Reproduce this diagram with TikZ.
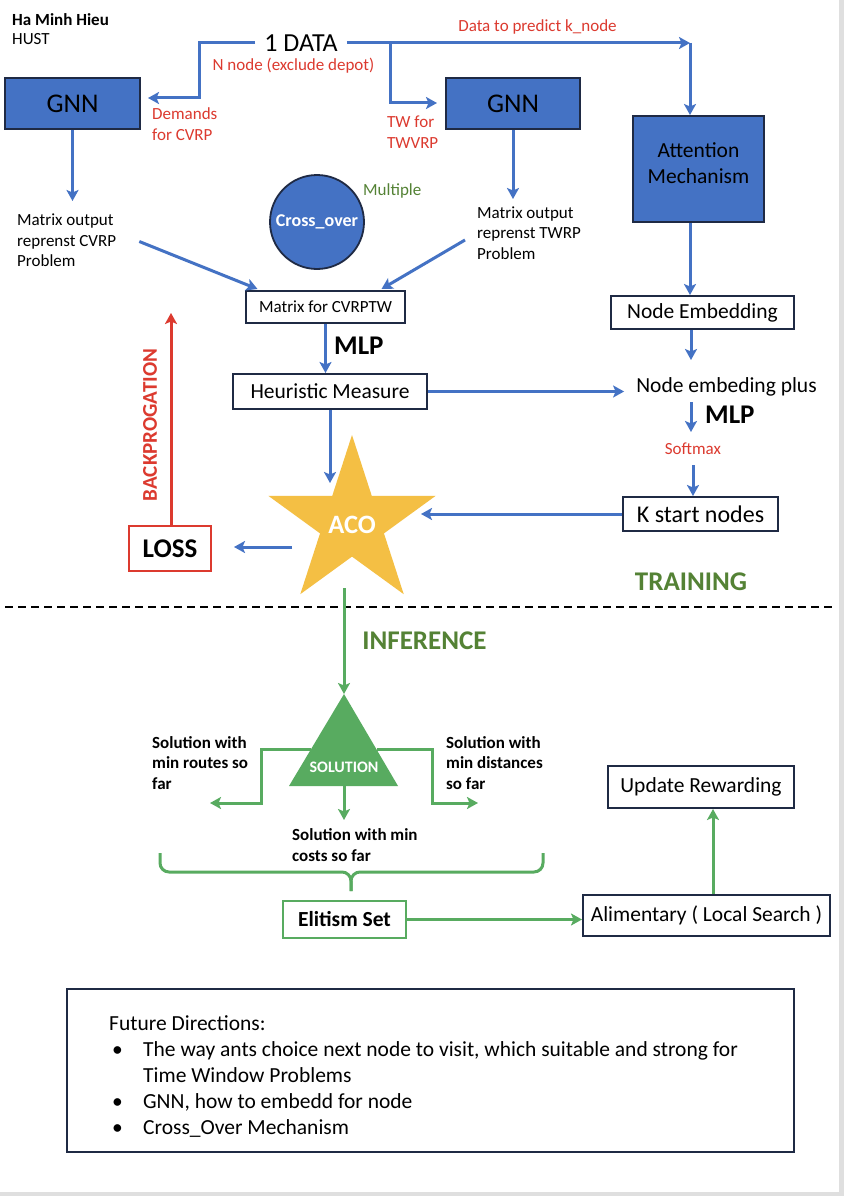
\documentclass[tikz,border=0pt]{standalone}
\usepackage{fontspec}
\setmainfont{Carlito}
\usetikzlibrary{arrows.meta}
\definecolor{oblue}{HTML}{4472C4}
\definecolor{navy}{HTML}{1F2A44}
\definecolor{ored}{HTML}{DC3A2F}
\definecolor{ogreen}{HTML}{58AB60}
\definecolor{dgreen}{HTML}{548235}
\definecolor{gold}{HTML}{F4BF44}
\definecolor{edgegray}{HTML}{DFDFDF}
\begin{document}
\begin{tikzpicture}[x=1pt,y=-1pt,
  fs/.style={font=\fontsize{17}{20.5}\selectfont},
  fsb/.style={font=\fontsize{17}{20.5}\selectfont\bfseries},
  fm/.style={font=\fontsize{21.5}{26}\selectfont},
  fmb/.style={font=\fontsize{21.5}{26}\selectfont\bfseries},
  fl/.style={font=\fontsize{27}{32}\selectfont},
  flb/.style={font=\fontsize{27}{32}\selectfont\bfseries},
  whitebox/.style={draw=navy, line width=2pt, fill=white, inner sep=0pt},
  bluebox/.style={draw=navy, line width=2pt, fill=oblue, inner sep=0pt},
  arrtip/.style={-{Stealth[length=11pt,width=12pt,inset=2.5pt]}},
  barrow/.style={draw=oblue, line width=3pt, arrtip},
  garrow/.style={draw=ogreen, line width=3pt, arrtip},
  rarrow/.style={draw=ored, line width=3pt, arrtip},
  gline/.style={draw=ogreen, line width=3pt},
  redtxt/.style={fs, text=ored, inner sep=0pt},
  plain/.style={inner sep=0pt}
]
\useasboundingbox (0,0) rectangle (844,1196);
\fill[white] (0,0) rectangle (844,1196);
\fill[edgegray] (839,0) rectangle (844,1196);
\fill[edgegray] (0,1192) rectangle (844,1196);

% header
\node[fsb, plain, anchor=west] (author) at (12,20) {Ha Minh Hieu};
\node[fs, plain, anchor=west] (inst) at (12,39) {HUST};

% data
\node[font=\fontsize{26}{31}\selectfont, inner xsep=9pt, inner ysep=0pt] (data) at (301,43) {1 DATA};
\node[redtxt] (nnode) at (293.5,66) {N node (exclude depot)};
\node[redtxt] (dpred) at (537.5,27) {Data to predict k\_node};

% top boxes
\node[bluebox, fl, minimum width=135, minimum height=51] (gnnL) at (72.5,103.5) {GNN};
\node[bluebox, fl, minimum width=134, minimum height=51] (gnnR) at (513,103.5) {GNN};
\node[bluebox, minimum width=131, minimum height=106] (att) at (698.5,169) {};
\node[fm, plain, align=center] (atttxt) at (698.5,163) {Attention\\Mechanism};

\node[redtxt, anchor=west, align=left] (dem) at (152,124) {Demands\\for CVRP};
\node[redtxt, anchor=west, align=left] (tw) at (387,132) {TW for\\TWVRP};

\coordinate (cL) at (199,98);
\coordinate (tipL) at (148,98);
\coordinate (cR) at (690,43);
\coordinate (cB) at (390,43);
\coordinate (tipB) at (437,103);
\draw[barrow] (data.west) -| (cL) -- (tipL);
\draw[barrow] (data.east) -- (cR);
\draw[barrow] (cR) -- (cR |- att.north);
\draw[barrow] (cB) |- (tipB);

\draw[barrow] (gnnL.south) -- ++(0,71);
\draw[barrow] (gnnR.south) -- ++(0,69);

\node[fs, plain, anchor=west, align=left] (mL) at (17,240.5) {Matrix output\\reprenst CVRP\\Problem};
\node[fs, plain, anchor=west, align=left] (mR) at (477,233) {Matrix output\\reprenst TWRP\\Problem};

\node[circle, draw=navy, line width=1.8pt, fill=oblue, minimum size=94, inner sep=0pt, text=white, font=\fontsize{18}{21}\selectfont\bfseries] (cross) at (317,222) {Cross\_over};
\node[fs, plain, text=dgreen, anchor=west] (mult) at (363,191) {Multiple};

\node[whitebox, fs, minimum width=159, minimum height=32] (mat) at (325.5,307) {Matrix for CVRPTW};
\draw[barrow] ([xshift=23pt,yshift=-1pt]mL.east) -- ([xshift=-68pt,yshift=1pt]mat.north);
\draw[barrow] ([xshift=-12pt,yshift=-7pt]mR.west) -- ([xshift=56pt,yshift=1pt]mat.north);

\node[whitebox, fm, minimum width=194, minimum height=35] (heur) at (330,391.5) {Heuristic Measure};
\draw[barrow] (mat.south) -- (mat.south |- heur.north);
\node[flb, plain, anchor=west] (mlp1) at (334,346) {MLP};

% right column
\node[whitebox, fm, minimum width=183, minimum height=33] (ne) at (702.5,312.5) {Node Embedding};
\draw[barrow] ([xshift=-8.5pt]att.south) -- ([xshift=-12.5pt]ne.north);
\node[fm, inner xsep=12pt, inner ysep=0pt] (nep) at (726.5,387) {Node embeding plus};
\coordinate (t1) at (691,360);
\draw[barrow] ([xshift=-11.5pt]ne.south) -- (t1);
\draw[barrow] (heur.east) -- (heur.east -| nep.west);
\coordinate (m2a) at (691,402);
\coordinate (m2b) at (691,432);
\draw[barrow] (m2a) -- (m2b);
\node[flb, plain, anchor=west] (mlp2) at (705,415) {MLP};
\node[redtxt] (soft) at (693,449) {Softmax};
\node[whitebox, font=\fontsize{24}{29}\selectfont, minimum width=155, minimum height=34] (kst) at (700.5,514) {K start nodes};
\coordinate (s1) at (693,465);
\draw[barrow] (s1) -- (s1 |- kst.north);

% star ACO
\begin{scope}[shift={(352,523)}]
\fill[gold] (-90:88) -- (-54:33.6) -- (-18:88) -- (18:33.6) -- (54:88) -- (90:33.6) -- (126:88) -- (162:33.6) -- (198:88) -- (234:33.6) -- cycle;
\end{scope}
\node[font=\fontsize{26.5}{31}\selectfont\bfseries, text=white, plain] (aco) at (352,525) {ACO};

\coordinate (hs) at (330,483);
\draw[barrow] (heur.south) -- (hs);
\coordinate (ks) at (421,514);
\draw[barrow] (kst.west) -- (ks);

\node[draw=ored, line width=2pt, fill=white, flb, minimum width=82, minimum height=45, inner sep=0pt] (loss) at (170,548.5) {LOSS};
\coordinate (al) at (292,547);
\draw[barrow] (al) -- ([xshift=22pt,yshift=1.5pt]loss.east);
\coordinate (bp) at (171,313);
\draw[rarrow] ([xshift=1pt]loss.north) -- (bp);
\node[rotate=90, font=\fontsize{21}{25}\selectfont\bfseries, text=ored, plain] (bpl) at (150,425) {BACKPROGATION};

\node[flb, plain, text=dgreen] (train) at (691,582) {TRAINING};
\coordinate (dl) at (5,607);
\coordinate (dr) at (833,607);
\draw[black, line width=1.8pt, dash pattern=on 8pt off 5pt] (dl) -- (dr);

% inference
\coordinate (acob) at (344,588);
\coordinate (tri) at (344,694);
\draw[garrow] (acob) -- (tri);
\node[flb, plain, text=dgreen] (inf) at (424.5,641) {INFERENCE};
\fill[ogreen] (tri) -- (289,786) -- (398,786) -- cycle;
\node[font=\fontsize{16}{19}\selectfont\bfseries, text=white, plain] (sol) at (344,767) {SOLUTION};

\coordinate (bl1) at (311,749);
\coordinate (bl2) at (261,803);
\coordinate (bl3) at (210,803);
\coordinate (br1) at (377,749);
\coordinate (br2) at (432,803);
\coordinate (br3) at (478,803);
\draw[garrow] (bl1) -| (bl2) -- (bl3);
\draw[garrow] (br1) -| (br2) -- (br3);
\coordinate (bm1) at (344,786);
\coordinate (bm2) at (344,820);
\draw[garrow] (bm1) -- (bm2);

\node[fsb, plain, anchor=west, align=left] (s1t) at (152,763) {Solution with\\min routes so\\far};
\node[fsb, plain, anchor=west, align=left] (s2t) at (446,763) {Solution with\\min distances\\so far};
\node[fsb, plain, anchor=west, align=left] (s3t) at (292,845) {Solution with min\\costs so far};

% brace
\coordinate (brL) at (160,853);
\coordinate (brR) at (543,853);
\coordinate (brM) at (351,872);
\coordinate (brT) at (351,891);
\draw[gline, rounded corners=9pt] (brL) |- (brM) -- (brT);
\draw[gline, rounded corners=9pt] (brR) |- (brM) -- (brT);

\node[draw=ogreen, line width=2pt, fill=white, fmb, minimum width=123, minimum height=37, inner sep=0pt] (elit) at (344.5,919.5) {Elitism Set};
\node[whitebox, fm, minimum width=247, minimum height=41] (alim) at (706.5,915.5) {Alimentary ( Local Search )};
\node[whitebox, fm, minimum width=186, minimum height=42] (upd) at (701,787) {Update Rewarding};
\draw[garrow] (elit.east) -- (elit.east -| alim.west);
\draw[garrow] ([xshift=6.5pt]alim.north) -- ([xshift=12pt]upd.south);

% future directions
\node[draw=navy, line width=2pt, minimum width=727, minimum height=163, inner sep=0pt] (fut) at (430.5,1070.5) {};
\node[fm, plain, anchor=north west, align=left] (futtxt) at (109,1015) {Future Directions:\\
\makebox[34pt][l]{\hspace{3pt}•}The way ants choice next node to visit, which suitable and strong for\\
\hspace*{34pt}Time Window Problems\\
\makebox[34pt][l]{\hspace{3pt}•}GNN, how to embedd for node\\
\makebox[34pt][l]{\hspace{3pt}•}Cross\_Over Mechanism};
\end{tikzpicture}
\end{document}
